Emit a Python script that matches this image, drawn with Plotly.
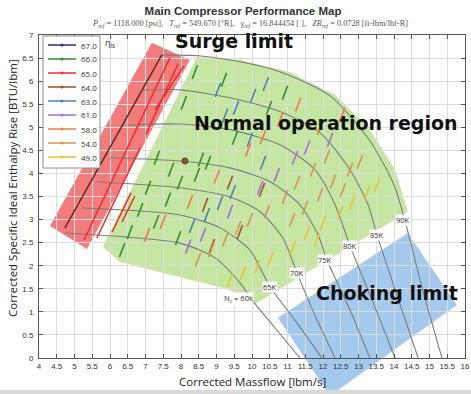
import plotly.graph_objects as go

# ---------------- data ----------------
title_text = "<b>Main Compressor Performance Map</b>"
subtitle_text = ("<i>P<sub>ref</sub></i> = 1118.000 [psi],   <i>T<sub>ref</sub></i> = 549.670 [°R],   "
                 "<i>γ<sub>ref</sub></i> = 16.844454 [ ],   <i>ZR<sub>ref</sub></i> = 0.0728 [ft-lbm/lbf-R]")
x_title = "Corrected Massflow [lbm/s]"
y_title = "Corrected Specific Ideal Enthalpy Rise [BTU/lbm]"

x_tick_vals = [4, 4.5, 5, 5.5, 6, 6.5, 7, 7.5, 8, 8.5, 9, 9.5, 10, 10.5, 11, 11.5, 12, 12.5,
               13, 13.5, 14, 14.5, 15, 15.5, 16]
x_tick_text = ["4", "4.5", "5", "5.5", "6", "6.5", "7", "7.5", "8", "8.5", "9", "9.5", "10", "10.5",
               "11", "11.5", "12", "12.5", "13", "13.5", "14", "14.5", "15", "15.5", "16"]
y_tick_vals = [0, 0.5, 1, 1.5, 2, 2.5, 3, 3.5, 4, 4.5, 5, 5.5, 6, 6.5, 7]
y_tick_text = ["0", "0.5", "1", "1.5", "2", "2.5", "3", "3.5", "4", "4.5", "5", "5.5", "6", "6.5", "7"]

# speed lines (corrected massflow, enthalpy rise)
n90_x = [7.45, 8.5, 9.6, 10.8, 12.2, 13.3, 14.0, 14.3, 14.8, 15.35]
n90_y = [6.57, 6.55, 6.43, 6.20, 5.68, 4.73, 3.75, 3.0, 1.5, 0.0]
n85_x = [6.93, 7.97, 9.38, 10.79, 11.92, 12.76, 13.27, 13.52, 14.03, 14.68]
n85_y = [5.81, 5.81, 5.64, 5.34, 4.88, 4.08, 3.32, 2.67, 1.48, 0.0]
n80_x = [6.48, 7.97, 9.38, 10.79, 11.77, 12.34, 12.76, 13.38, 14.03]
n80_y = [5.05, 5.07, 4.95, 4.62, 4.08, 3.32, 2.43, 1.26, 0.0]
n75_x = [6.00, 7.97, 9.38, 10.51, 11.35, 11.86, 12.11, 12.76, 13.32]
n75_y = [4.34, 4.27, 4.12, 3.82, 3.32, 2.67, 2.13, 1.04, 0.0]
n70_x = [5.63, 7.97, 9.38, 10.23, 10.87, 11.27, 11.77, 12.34]
n70_y = [3.82, 3.69, 3.49, 3.17, 2.60, 1.84, 0.93, 0.0]
n65_x = [5.21, 7.97, 9.10, 9.94, 10.51, 11.21, 11.97]
n65_y = [3.25, 3.10, 2.82, 2.34, 1.54, 0.82, 0.0]
n60_x = [4.73, 7.97, 8.96, 9.66, 10.0, 10.65, 11.35]
n60_y = [2.71, 2.49, 2.17, 1.63, 1.26, 0.65, 0.0]

speed_labels = ["N<sub>c</sub> = 60k", "65K", "70K", "75K", "80K", "85K", "90K"]
speed_label_x = [9.61, 10.51, 11.27, 12.06, 12.76, 13.52, 14.25]
speed_label_y = [1.28, 1.54, 1.84, 2.13, 2.43, 2.67, 3.0]

# surge line
surge_x = [4.73, 7.46]
surge_y = [2.82, 6.57]

# design point
design_x = [8.11]
design_y = [4.27]

# efficiency levels
eff_levels = ["67.0", "66.0", "65.0", "64.0", "63.0", "61.0", "58.0", "54.0", "49.0"]

# iso-efficiency dash centres
eff66_x = [8.39, 8.08, 9.21, 9.52, 10.48, 10.93, 8.56, 7.72, 7.32, 7.07, 6.85, 6.56, 7.97, 7.63,
           8.45, 8.76, 7.30, 7.92, 6.34]
eff66_y = [6.20, 5.53, 6.03, 4.77, 5.42, 5.75, 4.30, 4.08, 4.34, 3.69, 3.21, 2.73, 3.80, 3.43,
           3.97, 4.23, 2.95, 2.60, 2.34]
eff64_x = [9.38, 8.68, 8.87, 9.66, 10.28]
eff64_y = [3.80, 3.32, 2.43, 2.73, 3.64]
eff63_x = [9.04, 9.55, 10.03, 10.39, 9.24, 10.31, 9.46, 9.10, 8.73, 8.31, 9.94]
eff63_y = [5.81, 5.42, 5.68, 5.94, 5.25, 4.23, 3.60, 3.36, 3.10, 2.86, 4.73]
eff61_x = [11.55, 11.21, 10.70, 10.23, 9.38, 8.62, 8.20, 12.20]
eff61_y = [4.56, 4.34, 3.97, 3.69, 3.17, 2.67, 2.41, 4.73]
eff58_x = [11.30, 9.89, 9.01, 8.25, 7.49, 7.04, 10.31, 10.79, 11.92, 12.54]
eff58_y = [5.49, 4.51, 3.93, 3.38, 2.95, 2.67, 4.79, 5.16, 4.99, 5.27]
eff54_x = [10.93, 10.42, 9.94, 9.61, 9.24, 8.85, 8.48, 11.27, 11.72, 12.11, 12.28, 11.92, 11.49,
           11.13, 12.76, 13.04, 12.56]
eff54_y = [3.49, 3.17, 2.99, 2.82, 2.56, 2.34, 2.13, 3.80, 4.08, 4.36, 3.82, 3.54, 3.25,
           2.99, 4.08, 4.25, 3.64]
eff49_x = [12.48, 12.82, 13.24, 13.52, 12.00, 11.55, 11.15, 10.51, 10.14, 9.75, 9.38, 11.83]
eff49_y = [3.15, 3.36, 3.58, 3.75, 2.93, 2.71, 2.39, 2.13, 1.97, 1.84, 1.69, 2.56]

# long 65.0 contour pieces near surge (start/end)
eff65_x0 = [5.27, 5.63, 7.01, 6.06, 6.34, 7.27]
eff65_y0 = [2.56, 2.60, 4.84, 2.73, 2.95, 5.38]
eff65_x1 = [7.69, 6.85, 7.92, 6.59, 6.70, 8.08]
eff65_y1 = [6.51, 4.56, 6.38, 3.58, 3.51, 6.33]

# highlighted regions (vertices)
surge_region_x = [4.31, 7.18, 8.25, 5.35]
surge_region_y = [2.86, 6.83, 6.46, 2.36]
normal_region_x = [8.45, 9.66, 11.07, 12.34, 13.32, 14.03, 14.39, 10.03, 9.38, 6.28, 5.80]
normal_region_y = [6.53, 6.46, 6.20, 5.70, 4.95, 4.08, 3.17, 1.15, 1.48, 2.08, 2.41]
choke_region_x = [10.73, 14.39, 15.77, 12.20]
choke_region_y = [0.87, 2.71, 1.15, -0.82]

region_texts = ["Surge limit", "Normal operation region", "Choking limit"]
region_text_x = [9.48, 12.08, 13.8]
region_text_y = [6.86, 5.1, 1.41]

# ---------------- styles ----------------
X_RANGE = [4, 16]
Y_RANGE = [0, 7]
eff_colors = ["#27307d", "#2f8f2f", "#ec2d2d", "#a0522d", "#4f7fb4", "#a86cd8", "#f2764a",
              "#d6944f", "#e6c52c"]
speed_color = "#7d7d7d"
DASH_HX, DASH_HY = 0.075, 0.15

fig = go.Figure()


def to_paper_y(v):
    return (v - Y_RANGE[0]) / (Y_RANGE[1] - Y_RANGE[0])


def region_path(xs, ys):
    pts = [f"{x},{to_paper_y(y)}" for x, y in zip(xs, ys)]
    return "M " + " L ".join(pts) + " Z"


for xs, ys, col in [(surge_region_x, surge_region_y, "rgba(240,100,100,0.85)"),
                    (normal_region_x, normal_region_y, "rgba(176,222,130,0.75)"),
                    (choke_region_x, choke_region_y, "rgba(140,188,232,0.8)")]:
    fig.add_shape(type="path", path=region_path(xs, ys), xref="x", yref="paper",
                  fillcolor=col, line=dict(width=0), layer="below")

# speed lines
for xs, ys in [(n60_x, n60_y), (n65_x, n65_y), (n70_x, n70_y), (n75_x, n75_y),
               (n80_x, n80_y), (n85_x, n85_y), (n90_x, n90_y)]:
    fig.add_trace(go.Scatter(x=xs, y=ys, mode="lines", showlegend=False, hoverinfo="skip",
                             line=dict(color=speed_color, width=1.1, shape="spline", smoothing=0.7)))

# surge line
fig.add_trace(go.Scatter(x=surge_x, y=surge_y, mode="lines", showlegend=False,
                         line=dict(color="#5e2a26", width=1.5)))


def dash_xy(cx, cy):
    xs, ys = [], []
    for x, y in zip(cx, cy):
        xs += [x - DASH_HX, x + DASH_HX, None]
        ys += [y - DASH_HY, y + DASH_HY, None]
    return xs, ys


dash_sets = {"66.0": (eff66_x, eff66_y), "64.0": (eff64_x, eff64_y), "63.0": (eff63_x, eff63_y),
             "61.0": (eff61_x, eff61_y), "58.0": (eff58_x, eff58_y), "54.0": (eff54_x, eff54_y),
             "49.0": (eff49_x, eff49_y)}
for lvl, col in zip(eff_levels, eff_colors):
    if lvl in dash_sets:
        dx, dy = dash_xy(*dash_sets[lvl])
        fig.add_trace(go.Scatter(x=dx, y=dy, mode="lines", showlegend=False, name=lvl,
                                 line=dict(color=col, width=1.6)))

# long 65.0 lines
lx, ly = [], []
for a, b, c, d in zip(eff65_x0, eff65_y0, eff65_x1, eff65_y1):
    lx += [a, c, None]
    ly += [b, d, None]
fig.add_trace(go.Scatter(x=lx, y=ly, mode="lines", showlegend=False, name="65.0",
                         line=dict(color=eff_colors[2], width=1.5)))

# design point
fig.add_trace(go.Scatter(x=design_x, y=design_y, mode="markers", showlegend=False,
                         marker=dict(color="#8a5a2b", size=6, line=dict(color="#5e3a1a", width=1))))

# speed labels
for t, x, y in zip(speed_labels, speed_label_x, speed_label_y):
    fig.add_annotation(x=x, y=y, text=t, showarrow=False, xanchor="center", yanchor="middle",
                       font=dict(size=7.5, color="#333"),
                       bgcolor="rgba(255,255,255,0.9)", borderpad=0)

# region texts
for t, x, y in zip(region_texts, region_text_x, region_text_y):
    fig.add_annotation(x=x, y=y, text=f"<b>{t}</b>", showarrow=False, xanchor="center",
                       yanchor="middle", font=dict(size=19, color="#111", family="DejaVu Sans"))

# ---------- manual legend (compact, like reference) ----------
PLOT_L, PLOT_R, PLOT_T, PLOT_B = 39, 465, 35, 358
FIG_W, FIG_H = 471, 394


def px_x(p):
    return (p - PLOT_L) / (PLOT_R - PLOT_L)


def px_y(p):
    return (PLOT_B - p) / (PLOT_B - PLOT_T)


fig.add_shape(type="rect", xref="paper", yref="paper", x0=px_x(43), x1=px_x(100),
              y0=px_y(168), y1=px_y(36), fillcolor="white", line=dict(color="#8c8c8c", width=1),
              layer="above")
for i, (lvl, col) in enumerate(zip(eff_levels, eff_colors)):
    yy = px_y(45 + 14 * i)
    fig.add_shape(type="line", xref="paper", yref="paper", x0=px_x(48), x1=px_x(76), y0=yy, y1=yy,
                  line=dict(color=col, width=1.5), layer="above")
    fig.add_shape(type="circle", xref="paper", yref="paper", x0=px_x(60.5), x1=px_x(63.5),
                  y0=yy - 1.5 / 323, y1=yy + 1.5 / 323, fillcolor=col, line=dict(width=0),
                  layer="above")
    fig.add_annotation(xref="paper", yref="paper", x=px_x(79), y=yy, text=lvl, showarrow=False,
                       xanchor="left", yanchor="middle", font=dict(size=8, color="#333"))
fig.add_annotation(xref="paper", yref="paper", x=px_x(103), y=px_y(43), text="η<sub>is</sub>",
                   showarrow=False, xanchor="left", yanchor="middle",
                   font=dict(size=9, color="#333"))

# axis titles and subtitle
fig.add_annotation(xref="paper", yref="paper", x=0.5, y=px_y(381), text=x_title, showarrow=False,
                   xanchor="center", yanchor="middle", font=dict(size=11.5, color="#222"))
fig.add_annotation(xref="paper", yref="paper", x=px_x(12), y=px_y(188), text=y_title,
                   showarrow=False, xanchor="center", yanchor="middle",
                   textangle=-90, font=dict(size=11.5, color="#222"))
fig.add_annotation(xref="paper", yref="paper", x=px_x(250), y=px_y(24), text=subtitle_text,
                   showarrow=False, xanchor="center", yanchor="middle",
                   font=dict(size=8.3, color="#555", family="Liberation Serif"))

# thin grey band at the very bottom of the screenshot
fig.add_shape(type="rect", xref="paper", yref="paper", x0=px_x(0), x1=px_x(FIG_W),
              y0=px_y(FIG_H), y1=px_y(390), fillcolor="#d9d9d9", line=dict(width=0),
              layer="below")

axis_common = dict(showgrid=True, gridcolor="#dcdcdc", gridwidth=1, zeroline=False,
                   showline=True, linecolor="#555", linewidth=1, mirror="ticks",
                   ticks="inside", ticklen=4, tickcolor="#555", automargin=False,
                   tickfont=dict(size=8, color="#333", family="Liberation Sans"))

fig.update_layout(
    width=FIG_W, height=FIG_H,
    margin=dict(l=PLOT_L, r=FIG_W - PLOT_R, t=PLOT_T, b=FIG_H - PLOT_B, autoexpand=False),
    paper_bgcolor="white", plot_bgcolor="rgba(0,0,0,0)",
    title=dict(text=title_text, x=243 / FIG_W,
               xanchor="center", y=1 - 11 / FIG_H, yanchor="middle", automargin=False,
               font=dict(size=11.5, color="#333", family="Liberation Sans")),
    xaxis=dict(range=X_RANGE, tickvals=x_tick_vals, ticktext=x_tick_text, **axis_common),
    yaxis=dict(range=Y_RANGE, tickvals=y_tick_vals, ticktext=y_tick_text,
               ticklabelstandoff=3, **axis_common),
    showlegend=False,
)

fig.write_html("out.html", config={"displayModeBar": False},
               post_script="document.body.style.margin='0';document.body.style.overflow='hidden';")
